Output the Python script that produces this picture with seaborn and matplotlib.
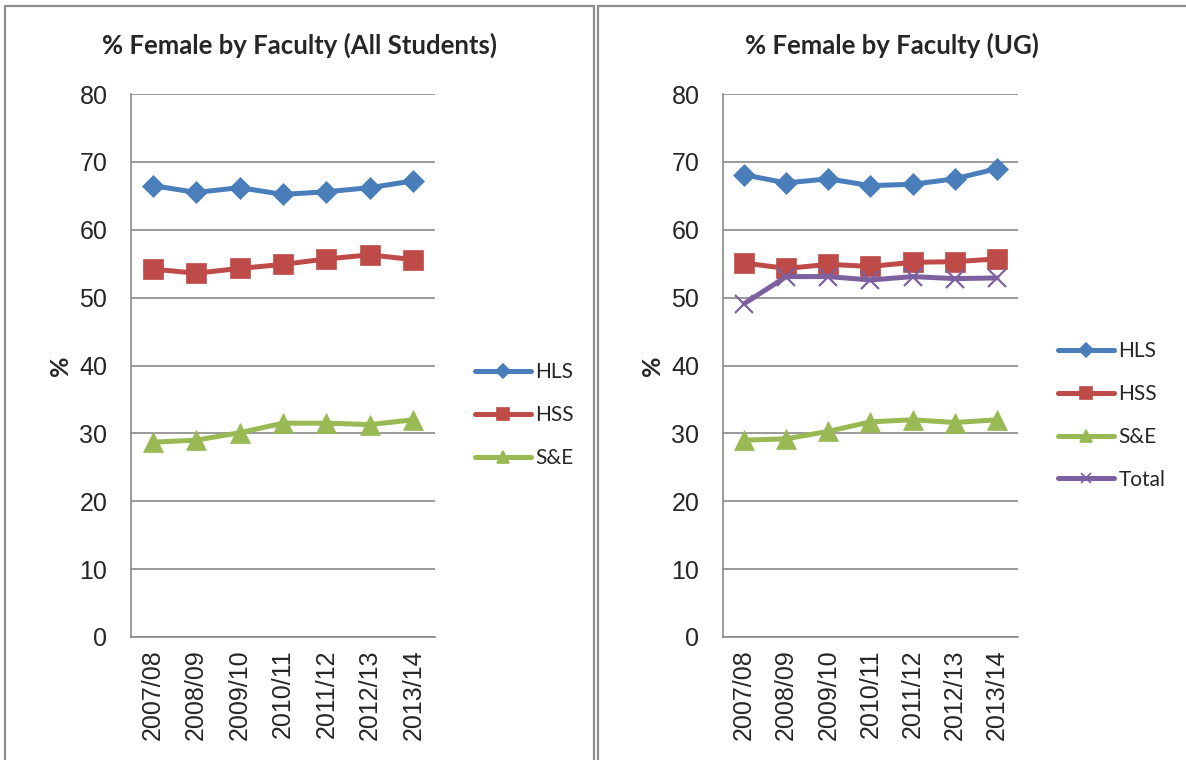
import pandas as pd
import matplotlib
matplotlib.use('Agg')
import matplotlib.pyplot as plt
from matplotlib.lines import Line2D
import seaborn as sns

years = ['2007/08', '2008/09', '2009/10', '2010/11', '2011/12', '2012/13', '2013/14']

# % female, all students
all_hls = [66.5, 65.5, 66.2, 65.2, 65.6, 66.2, 67.2]
all_hss = [54.2, 53.6, 54.3, 54.9, 55.7, 56.3, 55.6]
all_se = [28.7, 29.0, 30.1, 31.5, 31.5, 31.3, 32.0]

# % female, undergraduates
ug_hls = [68.1, 66.9, 67.5, 66.5, 66.7, 67.5, 69.0]
ug_hss = [55.1, 54.3, 54.9, 54.6, 55.2, 55.3, 55.7]
ug_se = [29.0, 29.2, 30.3, 31.7, 32.0, 31.6, 32.0]
ug_total = [49.1, 53.1, 53.1, 52.6, 53.1, 52.8, 52.9]

colors = {'HLS': '#4a7ebb', 'HSS': '#be4b48', 'S&E': '#98b954', 'Total': '#7d60a0'}
markers = {'HLS': 'D', 'HSS': 's', 'S&E': '^', 'Total': 'x'}
msizes = {'HLS': 11.5, 'HSS': 14, 'S&E': 14, 'Total': 13}

grid_col = '#898989'
tick_font = 'Liberation Sans'
text_font = 'Lato'

sns.set_style('white')
plt.rcParams['font.family'] = [tick_font, 'DejaVu Sans']

W, H = 1186, 760
fig = plt.figure(figsize=(W / 100, H / 100), dpi=100)


def long_df(series):
    rows = []
    for name, vals in series.items():
        for y, v in zip(years, vals):
            rows.append({'year': y, 'pct': v, 'faculty': name})
    return pd.DataFrame(rows)


def draw_panel(rect, series, title, title_x, legend_xy):
    ax = fig.add_axes(rect)
    df = long_df(series)
    names = list(series.keys())
    for name in names:
        d = df[df['faculty'] == name]
        sns.lineplot(data=d, x='year', y='pct', ax=ax, color=colors[name],
                     linewidth=3.6, marker=markers[name], markersize=msizes[name],
                     markeredgecolor=colors[name],
                     markeredgewidth=1.6 if name == 'Total' else 0.5,
                     sort=False, legend=False, zorder=3)
    ax.set_xlim(-0.5, len(years) - 0.5)
    ax.set_ylim(0, 80)
    ax.set_yticks(range(0, 81, 10))
    ax.set_xticks(range(len(years)))
    ax.set_xticklabels(years, rotation=90, fontsize=18)
    ax.tick_params(axis='y', labelsize=18, pad=17, length=0)
    ax.tick_params(axis='x', pad=9, length=0)
    ax.grid(axis='y', color=grid_col, linewidth=1.2)
    ax.set_axisbelow(True)
    for s in ['top', 'right']:
        ax.spines[s].set_visible(False)
    for s in ['left', 'bottom']:
        ax.spines[s].set_color(grid_col)
        ax.spines[s].set_linewidth(1.2)
    ax.set_xlabel('')
    ax.set_ylabel('%', fontsize=18, fontweight='bold', family=text_font, labelpad=5)
    fig.text(title_x, 1 - 45 / H, title, ha='center', va='center',
             fontsize=18.5, fontweight='bold', family=text_font)
    handles = [Line2D([0], [0], color=colors[n], lw=3.6, marker=markers[n],
                      markersize=msizes[n] * 0.6, markeredgewidth=1.2,
                      solid_capstyle='round') for n in names]
    fig.legend(handles, names, loc='upper left', bbox_to_anchor=legend_xy,
               frameon=False, handlelength=2.7, handletextpad=0.2,
               labelspacing=1.1, borderpad=0, borderaxespad=0,
               prop={'family': text_font, 'size': 15})
    return ax


draw_panel([131 / W, 1 - 637 / H, 304 / W, 543 / H],
           {'HLS': all_hls, 'HSS': all_hss, 'S&E': all_se},
           '% Female by Faculty (All Students)', 300 / W,
           (475 / W, 1 - 362 / H))
draw_panel([723 / W, 1 - 637 / H, 295 / W, 543 / H],
           {'HLS': ug_hls, 'HSS': ug_hss, 'S&E': ug_se, 'Total': ug_total},
           '% Female by Faculty (UG)', 892 / W,
           (1058 / W, 1 - 341 / H))

# panel borders
bc = '#8c8c8c'
for xs, ys in [([5, 5], [6, H]), ([5, 594], [6, 6]), ([594, 594], [6, H]),
               ([598, 598], [6, H]), ([598, W], [6, 6])]:
    fig.add_artist(Line2D([x / W for x in xs], [1 - y / H for y in ys],
                          color=bc, lw=1.6, transform=fig.transFigure))

fig.savefig('out.png', dpi=100)
